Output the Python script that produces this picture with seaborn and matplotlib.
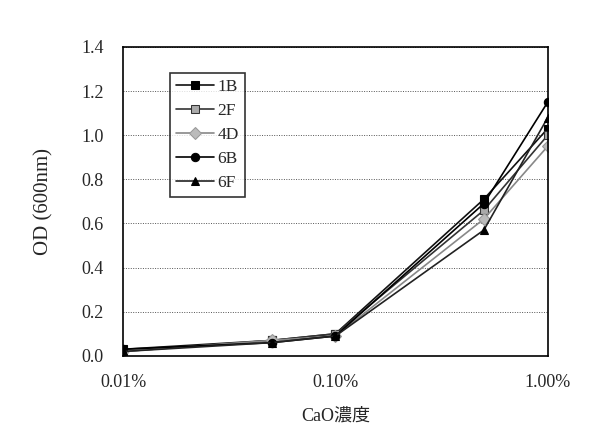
import numpy as np
import pandas as pd
import matplotlib
matplotlib.use('Agg')
import matplotlib.pyplot as plt
import seaborn as sns
from matplotlib.ticker import FixedLocator, FixedFormatter, NullLocator

# CaO concentration (%) and OD readings per strain
conc = [0.01, 0.05, 0.1, 0.5, 1.0]
od_1B = [0.03, 0.07, 0.10, 0.71, 1.03]
od_2F = [0.02, 0.07, 0.10, 0.66, 1.00]
od_4D = [0.02, 0.07, 0.09, 0.62, 0.95]
od_6B = [0.03, 0.06, 0.09, 0.69, 1.15]
od_6F = [0.02, 0.06, 0.09, 0.57, 1.08]
strains = ['1B', '2F', '4D', '6B', '6F']

df = pd.concat([
    pd.DataFrame({'conc': conc, 'OD': v, 'strain': s})
    for s, v in zip(strains, [od_1B, od_2F, od_4D, od_6B, od_6F])
], ignore_index=True)

sns.set_style('white')
plt.rcParams['font.family'] = ['Liberation Serif', 'Noto Sans CJK JP']

fig = plt.figure(figsize=(5.89, 4.34), dpi=100)
ax = fig.add_axes([0.209, 0.180, 0.721, 0.712])

palette = {'1B': '#111111', '2F': '#333333', '4D': '#888888', '6B': '#000000', '6F': '#222222'}
markers = {'1B': 's', '2F': 's', '4D': 'D', '6B': 'o', '6F': '^'}
sns.lineplot(data=df, x='conc', y='OD', hue='strain', style='strain',
             palette=palette, markers=markers, dashes=False, linewidth=1.2,
             markersize=6, ax=ax)

face = {'1B': '#000000', '2F': '#aaaaaa', '4D': '#bbbbbb', '6B': '#000000', '6F': '#000000'}
edge = {'1B': '#000000', '2F': '#333333', '4D': '#999999', '6B': '#000000', '6F': '#000000'}
for line, s in zip(ax.lines, strains):
    line.set_markerfacecolor(face[s])
    line.set_markeredgecolor(edge[s])
    line.set_markeredgewidth(0.8)

ax.set_xscale('log')
ax.set_xlim(0.01, 1.0)
ax.set_ylim(0, 1.4)
ax.xaxis.set_major_locator(FixedLocator([0.01, 0.1, 1.0]))
ax.xaxis.set_major_formatter(FixedFormatter(['0.01%', '0.10%', '1.00%']))
ax.xaxis.set_minor_locator(NullLocator())
ax.set_yticks(np.arange(0, 1.41, 0.2))
ax.set_yticklabels([f'{v:.1f}' for v in np.arange(0, 1.41, 0.2)])
ax.tick_params(axis='both', labelsize=13, length=0, pad=14)
ax.tick_params(axis='x', pad=13)
ax.grid(axis='y', linestyle=(0, (1, 1.5)), color='#555555', linewidth=0.7)
for sp in ax.spines.values():
    sp.set_color('black')
    sp.set_linewidth(1.2)

ax.set_xlabel('CaO濃度', fontsize=13, labelpad=12)
ax.set_ylabel('OD (600nm)', fontsize=15, labelpad=20)

handles, labels = ax.get_legend_handles_labels()
leg = ax.legend(handles, labels, loc='upper left', bbox_to_anchor=(0.09, 0.945),
                fontsize=12.5, frameon=True, fancybox=False, edgecolor='black',
                handlelength=2.2, handletextpad=0.2, labelspacing=0.45,
                borderpad=0.35, numpoints=1)
leg.get_frame().set_linewidth(1.2)
for lh, s in zip(leg.legend_handles, labels):
    lh.set_markerfacecolor(face[s])
    lh.set_markeredgecolor(edge[s])

fig.savefig('out.png', dpi=100)
